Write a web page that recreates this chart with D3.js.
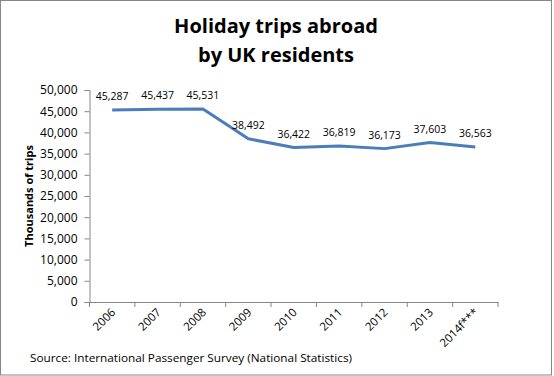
<!DOCTYPE html>
<html><head><meta charset="utf-8">
<script src="https://cdn.jsdelivr.net/npm/d3@7"></script>
<style>body{margin:0;background:#fff}svg{display:block}text{font-family:"Open Sans","Noto Sans",sans-serif}</style>
</head><body>
<svg id="c" width="554" height="376"></svg>
<script>
const years = ["2006","2007","2008","2009","2010","2011","2012","2013","2014f***"];
const trips = [45287,45437,45531,38492,36422,36819,36173,37603,36563];
const yTicks = [0,5000,10000,15000,20000,25000,30000,35000,40000,45000,50000];
const titleLines = ["Holiday trips abroad","by UK residents"];
const yTitle = "Thousands  of trips";
const source = "Source:  International Passenger Survey (National Statistics)";

const svg = d3.select("#c");
svg.append("rect").attr("x",0.5).attr("y",0.5).attr("width",551).attr("height",374.5)
  .attr("fill","#fff").attr("stroke","#868686");

const L=89.5, R=498, T=90, B=302;
const x = d3.scaleBand().domain(years).range([L,R]);
const y = d3.scaleLinear().domain([0,50000]).range([B,T]);
const fmt = d3.format(",");

svg.selectAll(".tt").data(titleLines).enter().append("text")
  .attr("x",276).attr("y",(d,i)=>33+i*29).attr("text-anchor","middle")
  .attr("font-size",20).attr("font-weight","bold").attr("fill","#000").text(d=>d);

const ya = svg.append("g").attr("transform",`translate(${L},0)`)
  .call(d3.axisLeft(y).tickValues(yTicks).tickFormat(fmt).tickSizeOuter(0).tickSize(5).tickPadding(7));
ya.select(".domain").attr("stroke","#868686");
ya.selectAll("line").attr("stroke","#868686");
ya.selectAll("text").attr("font-size",12).attr("fill","#000").attr("font-family","'Open Sans',sans-serif");

const xa = svg.append("g").attr("transform",`translate(0,${B})`)
  .call(d3.axisBottom(x).tickSize(0).tickSizeOuter(0));
xa.select(".domain").attr("stroke","#868686");
xa.selectAll(".tick text").remove();
const bounds = years.map(d=>x(d)).concat([R]);
svg.append("g").selectAll("line").data(bounds).enter().append("line")
  .attr("x1",d=>d).attr("x2",d=>d).attr("y1",B).attr("y2",B+5).attr("stroke","#868686");
svg.append("g").selectAll("text").data(years).enter().append("text")
  .attr("transform",d=>`translate(${x(d)+x.bandwidth()/2+4},${B+11}) rotate(-45)`)
  .attr("text-anchor","end").attr("font-size",11.5).attr("fill","#000").text(d=>d);

svg.append("text").attr("transform",`translate(33,${(T+B)/2}) rotate(-90)`)
  .attr("text-anchor","middle").attr("font-size",11).attr("font-weight","bold").attr("fill","#000")
  .text(yTitle);

const line = d3.line().x((d,i)=>x(years[i])+x.bandwidth()/2).y(d=>y(d));
svg.append("path").datum(trips).attr("d",line).attr("fill","none")
  .attr("stroke","#4a7ebb").attr("stroke-width",3).attr("stroke-linejoin","round");

svg.append("g").selectAll("text").data(trips).enter().append("text")
  .attr("x",(d,i)=>x(years[i])+x.bandwidth()/2).attr("y",d=>y(d)-10)
  .attr("text-anchor","middle").attr("font-size",10.5).attr("fill","#000").text(d=>fmt(d));

svg.append("text").attr("x",30).attr("y",362).attr("font-size",11).attr("fill","#000")
  .attr("textLength",322).attr("lengthAdjust","spacingAndGlyphs").text(source);
</script>
</body></html>
